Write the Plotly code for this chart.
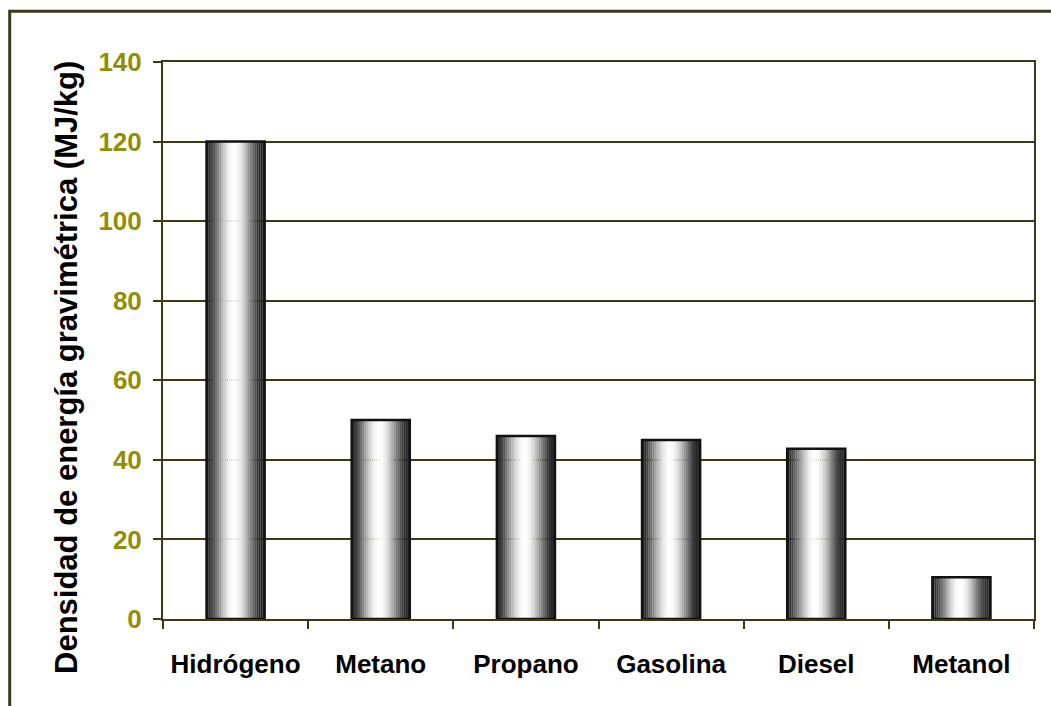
import math
import plotly.graph_objects as go

# Gravimetric energy density of fuels (MJ/kg)
combustibles = ["Hidrógeno", "Metano", "Propano", "Gasolina", "Diesel", "Metanol"]
densidad = [120, 50, 46, 45, 42.8, 10.5]
y_ticks = [0, 20, 40, 60, 80, 100, 120, 140]
y_title = "Densidad de energía gravimétrica (MJ/kg)"

FONT = "Liberation Sans, Arial, sans-serif"
OLIVE_TXT = "#8f8f00"
GRID = "#3a3a18"

bar_w = 0.4
n_strips = 28
strip_w = bar_w / n_strips

fig = go.Figure()

# Cylinder-like shading: each bar is built from thin vertical strips
for i in range(n_strips):
    t = (i + 0.5) / n_strips
    g = int(40 + 215 * math.sin(math.pi * min(1.0, t * 1.05)) ** 1.6)
    g = max(0, min(255, g))
    fig.add_trace(go.Bar(
        x=combustibles,
        y=densidad,
        width=[strip_w * 1.08] * len(combustibles),
        offset=[-bar_w / 2 + i * strip_w] * len(combustibles),
        marker=dict(color=f"rgb({g},{g},{g})", line=dict(width=0)),
        hoverinfo="skip",
        showlegend=False,
    ))

# Dark outline around each bar
fig.add_trace(go.Bar(
    x=combustibles,
    y=densidad,
    width=[bar_w] * len(combustibles),
    offset=[-bar_w / 2] * len(combustibles),
    marker=dict(color="rgba(0,0,0,0)", line=dict(color="#111111", width=2.5)),
    hoverinfo="skip",
    showlegend=False,
))

# Outer chart frame
fig.add_shape(type="rect", xref="paper", yref="paper",
              x0=-0.176, x1=1.05, y0=-0.2, y1=1.091,
              line=dict(color="#3a3a18", width=3), fillcolor="rgba(0,0,0,0)",
              layer="below")

# Vertical axis title
fig.add_annotation(
    text=y_title, textangle=-90, showarrow=False,
    xref="paper", yref="paper", x=-0.11, y=0.451,
    xanchor="center", yanchor="middle",
    font=dict(family=FONT, size=31, color="black", weight="bold"),
)

fig.update_layout(
    width=1051, height=706,
    margin=dict(l=163, r=17, t=62, b=87),
    paper_bgcolor="white",
    plot_bgcolor="white",
    barmode="overlay",
    bargap=0.6,
    showlegend=False,
    xaxis=dict(
        type="category",
        tickfont=dict(family=FONT, size=26, color="black", weight="bold"),
        ticks="outside", ticklen=8, tickwidth=2, tickcolor=GRID,
        tickson="boundaries",
        ticklabelstandoff=21,
        showline=True, linecolor=GRID, linewidth=2, mirror=True,
        showgrid=False,
        range=[-0.5, 5.5],
    ),
    yaxis=dict(
        range=[0, 140],
        tickvals=y_ticks,
        tickfont=dict(family=FONT, size=26, color=OLIVE_TXT, weight="bold"),
        ticks="outside", ticklen=8, tickwidth=2, tickcolor=GRID,
        ticklabelstandoff=6,
        showline=True, linecolor=GRID, linewidth=2, mirror=True,
        showgrid=True, gridcolor=GRID, gridwidth=2,
        zeroline=False,
    ),
)

fig.write_html("out.html")
